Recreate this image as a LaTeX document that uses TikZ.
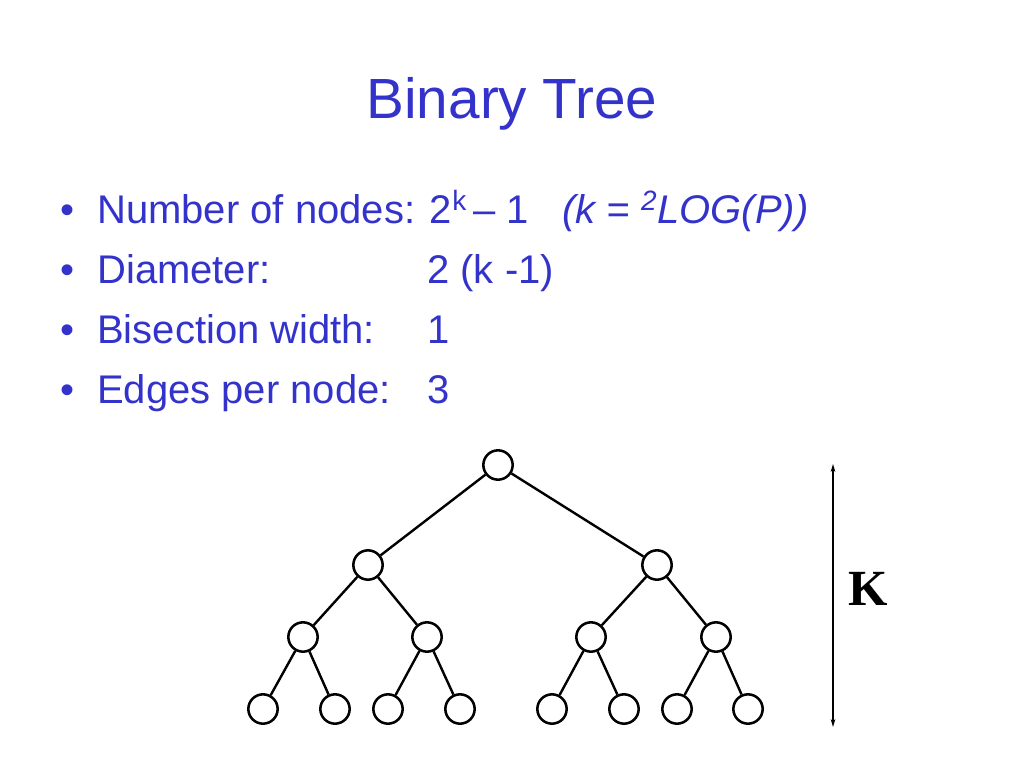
\documentclass[tikz,border=0pt]{standalone}
\usepackage{fontspec}
\setmainfont{Liberation Sans}
\newfontfamily\kserif{Liberation Serif}
\usetikzlibrary{arrows.meta}
\definecolor{slideblue}{RGB}{51,51,204}
\tikzset{
  tnode/.style={circle,draw=black,line width=1.9pt,minimum size=22pt,inner sep=0pt},
  tedge/.style={draw=black,line width=1.8pt},
  bodytext/.style={anchor=base west,inner sep=0pt,text=slideblue,font=\fontsize{30}{34}\selectfont},
  titletext/.style={anchor=base,inner sep=0pt,text=slideblue,font=\fontsize{42.5}{48}\selectfont},
}
\begin{document}
\begin{tikzpicture}[x=0.75pt,y=-0.75pt]
\useasboundingbox[fill=white] (0,0) rectangle (1023,767);
% title
\node[titletext] (title) at (512,118) {Binary Tree};
% bullets
\node[bodytext] (b1) at (60,223) {•};
\node[bodytext] (t1) at (97,223) {Number of nodes: 2\textsuperscript{k}\,– 1};
\node[bodytext] (t1b) at (562,223) {\itshape (k = \textsuperscript{2}LOG(P))};
\node[bodytext] (b2) at (60,283) {•};
\node[bodytext] (t2) at (97,283) {Diameter:};
\node[bodytext] (v2) at (427,283) {2 (k -1)};
\node[bodytext] (b3) at (60,343) {•};
\node[bodytext] (t3) at (97,343) {Bisection width:};
\node[bodytext] (v3) at (427,343) {1};
\node[bodytext] (b4) at (60,403) {•};
\node[bodytext] (t4) at (97,403) {Edges per node:};
\node[bodytext] (v4) at (427,403) {3};
% tree
\node[tnode] (n) at (498,465) {};
\node[tnode] (nl) at (368,565) {};
\node[tnode] (nr) at (657,565) {};
\node[tnode] (nll) at (303,637) {};
\node[tnode] (nlr) at (427,637) {};
\node[tnode] (nrl) at (591,637) {};
\node[tnode] (nrr) at (716,637) {};
\node[tnode] (a1) at (263,709) {};
\node[tnode] (a2) at (335,709) {};
\node[tnode] (a3) at (388,709) {};
\node[tnode] (a4) at (460,709) {};
\node[tnode] (a5) at (552,709) {};
\node[tnode] (a6) at (624,709) {};
\node[tnode] (a7) at (677,709) {};
\node[tnode] (a8) at (748,709) {};
\path[tedge] (n) -- (nl) (n) -- (nr)
  (nl) -- (nll) (nl) -- (nlr) (nr) -- (nrl) (nr) -- (nrr)
  (nll) -- (a1) (nll) -- (a2) (nlr) -- (a3) (nlr) -- (a4)
  (nrl) -- (a5) (nrl) -- (a6) (nrr) -- (a7) (nrr) -- (a8);
% height arrow
\coordinate (ktop) at (833,464);
\coordinate (kbot) at (833,727);
\draw[line width=1.3pt,{Stealth[length=6pt,width=3.5pt]}-{Stealth[length=6pt,width=3.5pt]}] (ktop) -- (kbot);
\node[anchor=base west,inner sep=0pt,font=\kserif\bfseries\fontsize{38}{40}\selectfont] (klab) at (848,605) {K};
\end{tikzpicture}
\end{document}
